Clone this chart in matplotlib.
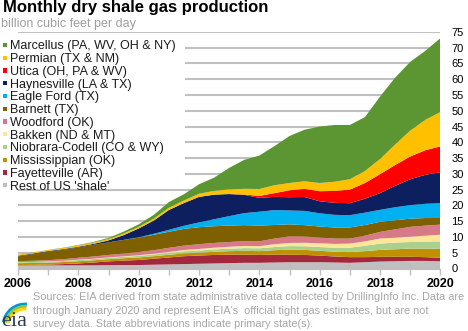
import matplotlib
matplotlib.use('Agg')
import matplotlib.pyplot as plt
from matplotlib.patches import Rectangle, Arc

plt.rcParams['font.family'] = ['Liberation Sans', 'DejaVu Sans']

# half-year points, Jan 2006 .. Jan 2020 (bcf/d)
months = [2006.0, 2006.5, 2007.0, 2007.5, 2008.0, 2008.5, 2009.0, 2009.5, 2010.0, 2010.5,
          2011.0, 2011.5, 2012.0, 2012.5, 2013.0, 2013.5, 2014.0, 2014.5, 2015.0, 2015.5,
          2016.0, 2016.5, 2017.0, 2017.5, 2018.0, 2018.5, 2019.0, 2019.5, 2020.0]

rest = [1.0, 1.0, 1.0, 1.0, 1.0, 1.0, 1.05, 1.1, 1.1, 1.2, 1.3, 1.4, 1.5, 1.6, 1.7,
        1.8, 1.8, 1.9, 2.0, 2.0, 2.0, 1.9, 1.8, 2.0, 2.2, 2.3, 2.4, 2.4, 2.3]
fayetteville = [0.1, 0.15, 0.25, 0.4, 0.6, 0.9, 1.2, 1.4, 1.6, 1.9, 2.2, 2.5, 2.6, 2.7, 2.7,
                2.6, 2.5, 2.5, 2.4, 2.3, 2.1, 1.9, 1.8, 1.6, 1.5, 1.4, 1.3, 1.2, 1.1]
mississippian = [0.6, 0.6, 0.6, 0.65, 0.7, 0.7, 0.7, 0.75, 0.8, 0.8, 0.85, 0.9, 0.9, 1.0, 1.1,
                 1.2, 1.2, 1.4, 1.6, 1.6, 1.5, 1.5, 1.6, 1.9, 2.2, 2.4, 2.6, 2.7, 2.8]
niobrara = [0.3, 0.3, 0.35, 0.35, 0.4, 0.4, 0.45, 0.45, 0.5, 0.55, 0.6, 0.65, 0.7, 0.75, 0.8,
            0.85, 0.9, 1.0, 1.1, 1.15, 1.2, 1.3, 1.4, 1.7, 2.0, 2.1, 2.1, 2.2, 2.4]
bakken = [0.05, 0.05, 0.05, 0.05, 0.1, 0.1, 0.1, 0.15, 0.2, 0.25, 0.3, 0.4, 0.5, 0.55, 0.6,
          0.7, 0.7, 0.9, 1.0, 1.1, 1.2, 1.2, 1.3, 1.4, 1.6, 1.6, 1.7, 1.9, 2.1]
woodford = [0.3, 0.35, 0.4, 0.5, 0.6, 0.7, 0.8, 0.9, 1.0, 1.1, 1.3, 1.4, 1.5, 1.5, 1.5,
            1.5, 1.5, 1.8, 2.1, 2.0, 1.8, 1.7, 1.6, 1.8, 2.1, 2.6, 3.1, 3.2, 3.2]
barnett = [1.5, 2.1, 2.7, 3.0, 3.3, 3.7, 4.0, 4.3, 4.6, 4.9, 5.1, 5.3, 5.4, 5.3, 5.2,
           5.1, 5.0, 4.3, 3.8, 3.6, 3.5, 3.5, 3.5, 3.4, 3.2, 2.9, 2.6, 2.4, 2.1]
eagle_ford = [0, 0, 0, 0, 0, 0, 0, 0.02, 0.1, 0.3, 0.6, 1.0, 1.5, 2.2, 3.0,
              3.8, 4.4, 4.7, 4.4, 4.5, 4.2, 4.0, 3.9, 3.9, 3.8, 4.1, 4.3, 4.5, 4.7]
haynesville = [0.2, 0.2, 0.2, 0.2, 0.2, 0.3, 0.6, 1.5, 2.8, 4.2, 6.3, 7.2, 8.1, 7.8, 7.0,
               5.8, 4.4, 4.2, 4.2, 4.4, 3.8, 3.8, 3.8, 4.4, 5.3, 6.8, 8.2, 9.2, 9.8]
utica = [0, 0, 0, 0, 0, 0, 0, 0, 0, 0, 0, 0, 0, 0, 0,
         0.1, 0.6, 1.2, 2.2, 2.6, 3.2, 3.8, 4.3, 5.0, 6.0, 6.6, 7.2, 7.8, 8.2]
permian = [0.3, 0.3, 0.3, 0.35, 0.4, 0.4, 0.45, 0.5, 0.5, 0.6, 0.7, 0.8, 1.0, 1.2, 1.5,
           1.8, 2.2, 2.5, 2.3, 2.4, 2.6, 2.9, 3.3, 3.8, 4.8, 6.5, 8.2, 9.6, 10.9]
marcellus = [0.05, 0.05, 0.05, 0.1, 0.15, 0.2, 0.35, 0.6, 0.8, 1.2, 1.8, 2.0, 3.0, 4.2, 6.8,
             9.2, 10.6, 12.4, 14.9, 16.35, 17.9, 18.0, 17.2, 17.1, 19.8, 21.2, 21.8, 21.9, 23.4]

labels = ['Marcellus (PA, WV, OH & NY)', 'Permian (TX & NM)', 'Utica (OH, PA & WV)',
          'Haynesville (LA & TX)', 'Eagle Ford (TX)', 'Barnett (TX)', 'Woodford (OK)',
          'Bakken (ND & MT)', 'Niobrara-Codell (CO & WY)', 'Mississippian (OK)',
          'Fayetteville (AR)', "Rest of US 'shale'"]
colors = ['#5b9632', '#ffc000', '#ff0000', '#0d1f5e', '#00b0f0', '#7f6000', '#d8798a',
          '#ffe699', '#a9d18e', '#bf9000', '#a3283e', '#bfbfbf']

series = [marcellus, permian, utica, haynesville, eagle_ford, barnett, woodford,
          bakken, niobrara, mississippian, fayetteville, rest]

fig = plt.figure(figsize=(4.68, 3.31), dpi=100)
ax = fig.add_axes([18 / 468, 62.5 / 331, 422.4 / 468, 236.6 / 331])

ax.stackplot(months, series[::-1], colors=colors[::-1], linewidth=0, zorder=2)

ax.set_xlim(2006, 2020)
ax.set_ylim(0, 75)
ax.yaxis.tick_right()
ax.set_yticks(range(0, 80, 5))
ax.tick_params(axis='y', length=0, pad=8, labelsize=8)
ax.set_xticks(range(2006, 2021, 2))
ax.set_xticks(range(2006, 2021), minor=True)
ax.tick_params(axis='x', which='both', length=4, color='#bfbfbf', width=1)
ax.tick_params(axis='x', labelsize=9, pad=3)
for lab in ax.get_xticklabels():
    lab.set_fontweight('bold')
ax.grid(axis='y', color='#c0c0c0', linewidth=1.5, zorder=0.5)
ax.set_axisbelow(True)
for s in ['top', 'left', 'right']:
    ax.spines[s].set_visible(False)
ax.spines['bottom'].set_color('#bfbfbf')

# legend box (white, hides grid lines)
fig.patches.append(Rectangle((0, 1 - 188 / 331), 185 / 468, 150 / 331,
                             transform=fig.transFigure, facecolor='white',
                             edgecolor='none', zorder=3))
for i, (lab, c) in enumerate(zip(labels, colors)):
    yc = 45 + i * 12.75
    fig.patches.append(Rectangle((2.5 / 468, 1 - (yc + 2.2) / 331), 4.4 / 468, 4.4 / 331,
                                 transform=fig.transFigure, facecolor=c,
                                 edgecolor='none', zorder=4))
    fig.text(10.5 / 468, 1 - (yc + 4.3) / 331, lab, fontsize=9, va='baseline',
             color='#1a1a1a', zorder=5)

fig.text(3 / 468, 1 - 12 / 331, 'Monthly dry shale gas production', fontsize=12,
         fontweight='bold', va='baseline')
fig.text(1 / 468, 1 - 26.7 / 331, 'billion cubic feet per day', fontsize=9,
         color='#a0a0a0', va='baseline')

src = ["Sources: EIA derived from state administrative data collected by DrillingInfo Inc. Data are",
       "through January 2020 and represent EIA's  official tight gas estimates, but are not",
       "survey data. State abbreviations indicate primary state(s)."]
for i, line in enumerate(src):
    fig.text(33 / 468, 1 - (300.5 + i * 13.3) / 331, line, fontsize=7.85,
             color='#a6a6a6', va='baseline')

# eia logo
lax = fig.add_axes([0, 0, 60 / 468, 51 / 331])
lax.set_xlim(0, 60)
lax.set_ylim(51, 0)
lax.axis('off')
for r, c in [(22, '#0096d6'), (19.5, '#8dc63f'), (17, '#ffd200')]:
    lax.add_patch(Arc((25, 46), 2 * r, 2 * r, theta1=190, theta2=275,
                      color=c, linewidth=2))
lax.text(1, 46, 'eia', fontsize=16, family='Liberation Serif', color='#2b3a55',
         va='baseline')

fig.savefig('out.png', dpi=100)
